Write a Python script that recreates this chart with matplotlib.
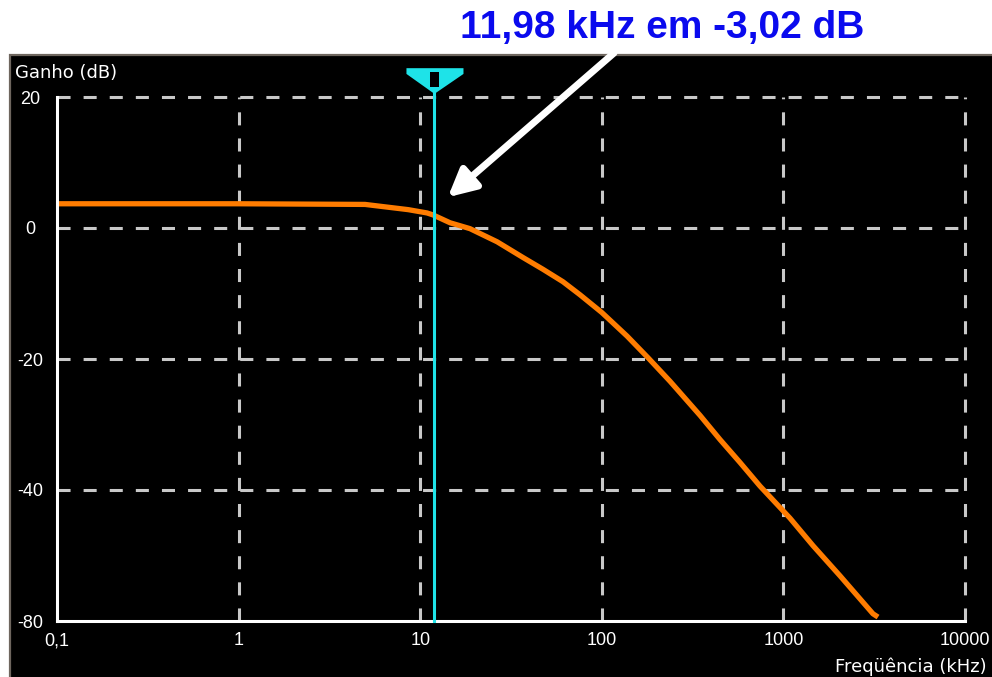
import matplotlib
matplotlib.use("Agg")
import matplotlib.pyplot as plt
import matplotlib.transforms as mtransforms
from matplotlib.patches import Rectangle, Polygon

plt.rcParams['font.family'] = ['Liberation Sans', 'DejaVu Sans']
plt.rcParams['lines.scale_dashes'] = False

# dados (posição no eixo de ganho)
freq_khz = [0.1, 1, 4.97, 6.1, 8.6, 10.9, 11.76, 14.6, 18.8, 26.5, 36.8, 47.4, 61.1, 75.9,
            100, 137.7, 179.6, 237.5, 347.3, 447.7, 577, 743, 1087, 1456, 2050, 3114, 3320]
ganho_db = [3.7, 3.7, 3.6, 3.3, 2.8, 2.3, 2.0, 0.8, -0.1, -2.1, -4.5, -6.3, -8.2, -10.2,
            -12.9, -16.5, -19.8, -23.4, -28.6, -32.3, -35.8, -39.4, -44.3, -48.5, -53.1, -58.9, -59.4]

xticks = [0.1, 1, 10, 100, 1000, 10000]
xtick_labels = ['0,1', '1', '10', '100', '1000', '10000']
yticks = [20, 0, -20, -40, -60]
ytick_labels = ['20', '0', '-20', '-40', '-80']

cursor_f = 11.98
titulo = '11,98 kHz em -3,02 dB'

fig = plt.figure(figsize=(9.92, 6.77), dpi=100)
fig.patch.set_facecolor('white')

# painel preto do instrumento
fig.patches.append(Rectangle((10 / 992, -0.01), 1.0, 1 - 55 / 677 + 0.01, transform=fig.transFigure,
                             facecolor='black', edgecolor='#6e665e', lw=1.6, zorder=-10))

ax = fig.add_axes([57 / 992, 1 - 621 / 677, 908 / 992, 524 / 677])
ax.set_zorder(1)
ax.set_facecolor('black')
ax.set_xscale('log')
ax.set_xlim(0.1, 10000)
ax.set_ylim(-60, 20)

for s in ['top', 'right']:
    ax.spines[s].set_visible(False)
for s in ['left', 'bottom']:
    ax.spines[s].set_color('white')
    ax.spines[s].set_linewidth(2.2)
    ax.spines[s].set_zorder(4)

grid_c = '#c8c8c8'
for x in xticks[1:]:
    ax.axvline(x, color=grid_c, lw=2.2, dashes=(9.4, 9.4), zorder=1, clip_on=False)
for y in yticks[:-1]:
    ax.axhline(y, color=grid_c, lw=2.2, dashes=(9.4, 9.4), zorder=1, clip_on=False)

ax.set_xticks(xticks)
ax.set_xticklabels(xtick_labels)
ax.set_yticks(yticks)
ax.set_yticklabels(ytick_labels)
ax.minorticks_off()
ax.tick_params(axis='both', length=0, colors='white', labelsize=13)
ax.tick_params(axis='x', pad=8)
ax.tick_params(axis='y', pad=19)
for lab in ax.get_yticklabels():
    lab.set_ha('center')

ax.plot(freq_khz, ganho_db, color='#ff7c00', lw=3.8, zorder=3, solid_capstyle='butt')

# cursor
cyan = '#1ee3e8'
tr = mtransforms.blended_transform_factory(ax.transData, ax.transAxes)
ax.plot([cursor_f, cursor_f], [0, 1.02], color=cyan, lw=2.2, transform=tr, zorder=5, clip_on=False)
tri = Polygon([(cursor_f / 1.426, 1.055), (cursor_f * 1.445, 1.055), (cursor_f * 1.445, 1.044),
               (cursor_f, 1.006), (cursor_f / 1.426, 1.044)], closed=True,
              facecolor=cyan, edgecolor='none', transform=tr, clip_on=False, zorder=6)
ax.add_patch(tri)
ax.add_patch(Rectangle((cursor_f / 1.055, 1.019), cursor_f * 1.055 - cursor_f / 1.055, 0.029,
                       facecolor='black', edgecolor='none', transform=tr, clip_on=False, zorder=7))

ax.annotate('', xy=(14.2, 4.7), xycoords='data',
            xytext=(614 / 992, 1 - 53 / 677), textcoords='figure fraction',
            arrowprops=dict(arrowstyle='-|>,head_length=0.55,head_width=0.28', color='white',
                            lw=5, mutation_scale=30, shrinkA=0, shrinkB=0),
            annotation_clip=False, zorder=8)

fig.text(662 / 992, 1 - 28 / 677, titulo, color='#0a0aee', fontsize=28, fontweight='bold',
         ha='center', va='center')
fig.text(15 / 992, 1 - 73 / 677, 'Ganho (dB)', color='white', fontsize=13, family='DejaVu Sans',
         ha='left', va='center')
fig.text(835 / 992, 1 - 667 / 677, 'Freqüência (kHz)', color='white', fontsize=13, family='DejaVu Sans',
         ha='left', va='center')

plt.savefig('out.png', dpi=100)
